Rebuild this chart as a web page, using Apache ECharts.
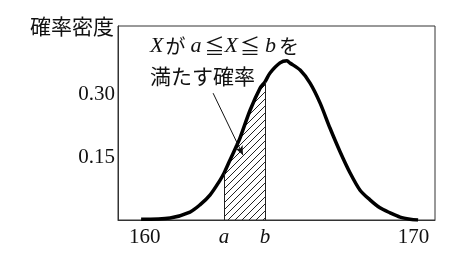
<!DOCTYPE html>
<html><head><meta charset="utf-8">
<script src="https://cdn.jsdelivr.net/npm/echarts@6/dist/echarts.min.js"></script>
<style>html,body{margin:0;padding:0;background:#fff}#c{width:473px;height:257px}</style>
</head><body><div id="c"></div>
<script>
// density curve: [x, density]
const curveX = [159.86,160.94,161.68,162.05,162.43,162.80,162.95,163.17,163.43,163.54,163.92,164.29,164.47,164.66,165.03,165.29,165.40,165.78,166.15,166.52,166.89,167.27,167.64,168.01,168.38,168.75,169.13,169.50,169.87,170.17];
const curveY = [0.002,0.005,0.019,0.036,0.060,0.095,0.112,0.143,0.179,0.195,0.262,0.314,0.329,0.350,0.374,0.379,0.374,0.357,0.326,0.279,0.219,0.162,0.112,0.071,0.048,0.029,0.017,0.007,0.002,0.000];
const aVal = 162.95, bVal = 164.47;
const xTicks = [160, 170];
const yTicks = [0.15, 0.30];
const arrowFrom = [162.54, 0.302];
const arrowTo = [163.65, 0.155];

const curve = curveX.map((x, i) => [x, curveY[i]]);
const hatch = curve.filter(p => p[0] >= aVal - 1e-9 && p[0] <= bVal + 1e-9);
const yAt = x => { for (const p of curve) if (Math.abs(p[0]-x) < 1e-9) return p[1]; return 0; };

// hatch pattern
const pc = document.createElement('canvas');
pc.width = 7; pc.height = 7;
const g = pc.getContext('2d');
g.strokeStyle = '#222'; g.lineWidth = 1;
g.beginPath();
g.moveTo(-1, 8); g.lineTo(8, -1);
g.moveTo(-8, 8); g.lineTo(1, -1);
g.moveTo(6, 8); g.lineTo(15, -1);
g.stroke();

const serif = '"Liberation Serif","Noto Sans CJK JP",serif';
const cjk = '"Noto Sans CJK JP",sans-serif';
const chart = echarts.init(document.getElementById('c'));
chart.setOption({
  animation: false,
  grid: { left: 118, right: 38, top: 26, bottom: 37, show: true, borderColor: '#333', borderWidth: 1 },
  xAxis: {
    type: 'value', min: 159, max: 170.8,
    axisLine: { show: true, lineStyle: { color: '#333', width: 1 } },
    axisTick: { show: false }, splitLine: { show: false },
    axisLabel: {
      customValues: [xTicks[0], aVal, bVal, xTicks[1]], margin: 7,
      fontFamily: serif, fontSize: 21, color: '#111',
      formatter: v => Math.abs(v - aVal) < 1e-6 ? '{i|a}' : Math.abs(v - bVal) < 1e-6 ? '{i|b}' : String(Math.round(v)),
      rich: { i: { fontStyle: 'italic', fontFamily: serif, fontSize: 21, color: '#111' } }
    }
  },
  yAxis: {
    type: 'value', min: 0, max: 0.462,
    axisLine: { show: true, lineStyle: { color: '#333', width: 1 } },
    axisTick: { show: false }, splitLine: { show: false },
    axisLabel: { customValues: yTicks, margin: 3, fontFamily: serif, fontSize: 21, color: '#111', formatter: v => v.toFixed(2) }
  },
  graphic: [
    { type: 'text', left: 30, top: 16, style: { text: '確率密度', font: '21px ' + cjk, fill: '#111' } },
    { type: 'text', left: 150, top: 35, style: {
      text: '{x|X}{j|が}{i|a}{j|≦}{x|X}{j|≦}{i|b}{j|を}',
      rich: {
        x: { fontFamily: serif, fontStyle: 'italic', fontSize: 22, fill: '#111', padding: [0, 2, 0, 0] },
        i: { fontFamily: serif, fontStyle: 'italic', fontSize: 22, fill: '#111', padding: [0, 3, 0, 5] },
        j: { fontFamily: cjk, fontSize: 20, fill: '#111' }
      } } },
    { type: 'text', left: 150, top: 66, style: { text: '満たす確率', font: '21px ' + cjk, fill: '#111' } }
  ],
  series: [
    {
      type: 'line', data: hatch, smooth: 0.3, symbol: 'none',
      lineStyle: { width: 0 }, areaStyle: { color: { image: pc, repeat: 'repeat' }, opacity: 1 },
      markLine: {
        silent: true, symbol: ['none', 'none'], label: { show: false },
        lineStyle: { color: '#222', width: 1, type: 'solid' },
        data: [
          [{ coord: [aVal, 0] }, { coord: [aVal, yAt(aVal)] }],
          [{ coord: [bVal, 0] }, { coord: [bVal, yAt(bVal)] }]
        ]
      }
    },
    {
      type: 'line', data: curve, smooth: 0.3, symbol: 'none',
      lineStyle: { color: '#000', width: 3.5 },
      markLine: {
        silent: true, symbol: ['none', 'arrow'], symbolSize: [6, 9], label: { show: false },
        lineStyle: { color: '#111', width: 1, type: 'solid' },
        data: [[{ coord: arrowFrom }, { coord: arrowTo }]]
      }
    }
  ]
});
</script></body></html>
